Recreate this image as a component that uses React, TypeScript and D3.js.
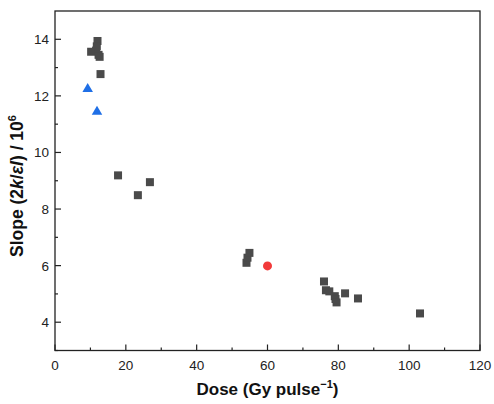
import React from "react";
import * as d3 from "d3";

const squareX = [12.0, 11.8, 10.2, 11.6, 12.3, 12.6, 12.85, 17.8, 26.8, 23.4, 54.07, 54.35, 54.9, 75.95, 76.5, 77.45, 79.0, 79.2, 79.5, 81.9, 85.55, 103.06];
const squareY = [13.94, 13.75, 13.56, 13.6, 13.45, 13.38, 12.77, 9.19, 8.95, 8.49, 6.10, 6.28, 6.45, 5.44, 5.13, 5.09, 4.92, 4.82, 4.70, 5.02, 4.84, 4.31];
const triangleX = [9.23, 11.86];
const triangleY = [12.24, 11.44];
const circleX = [60.0];
const circleY = [5.99];
const xTicks = [0, 20, 40, 60, 80, 100, 120];
const yTicks = [4, 6, 8, 10, 12, 14];
const xMinor = [10, 30, 50, 70, 90, 110];
const yMinor = [3, 5, 7, 9, 11, 13];

const W = 494, H = 404;
const L = 55, R = 480, T = 11, B = 350.5;

export default function App() {
  const x = d3.scaleLinear().domain([0, 120]).range([L, R]);
  const y = d3.scaleLinear().domain([3, 15]).range([B, T]);
  const font = "'Liberation Sans', Arial, sans-serif";
  const triPath = d3.symbol(d3.symbolTriangle, 48)() as string;
  return (
    <svg width={W} height={H} style={{ position: "absolute", left: 0, top: 0 }} fontFamily={font}>
      <rect x={0} y={0} width={W} height={H} fill="#fff" />
      <rect x={L} y={T} width={R - L} height={B - T} fill="none" stroke="#222" strokeWidth={1.3} />
      {xTicks.map((t) => (
        <g key={"xt" + t}>
          <line x1={x(t)} x2={x(t)} y1={B} y2={B - 6} stroke="#222" strokeWidth={1.2} />
          <text x={x(t)} y={B + 19.5} fontSize={13.5} textAnchor="middle" fill="#222">{t}</text>
        </g>
      ))}
      {xMinor.map((t) => (
        <line key={"xm" + t} x1={x(t)} x2={x(t)} y1={B} y2={B - 3} stroke="#222" strokeWidth={1.2} />
      ))}
      {yTicks.map((t) => (
        <g key={"yt" + t}>
          <line x1={L} x2={L + 6} y1={y(t)} y2={y(t)} stroke="#222" strokeWidth={1.2} />
          <text x={L - 6} y={y(t) + 5} fontSize={13.5} textAnchor="end" fill="#222">{t}</text>
        </g>
      ))}
      {yMinor.map((t) => (
        <line key={"ym" + t} x1={L} x2={L + 3} y1={y(t)} y2={y(t)} stroke="#222" strokeWidth={1.2} />
      ))}
      {squareX.map((v, i) => (
        <rect key={"s" + i} x={x(v) - 4} y={y(squareY[i]) - 4} width={8} height={8} fill="#4a4a4a" />
      ))}
      {triangleX.map((v, i) => (
        <path key={"t" + i} d={triPath} transform={`translate(${x(v)},${y(triangleY[i])})`} fill="#1f6fe6" />
      ))}
      {circleX.map((v, i) => (
        <circle key={"c" + i} cx={x(v)} cy={y(circleY[i])} r={4.5} fill="#f23a3a" />
      ))}
      <text x={(L + R) / 2} y={395} fontSize={17} fontWeight="bold" textAnchor="middle" fill="#111">
        Dose (Gy pulse<tspan dy={-7} fontSize={11}>−1</tspan><tspan dy={7}>)</tspan>
      </text>
      <text transform={`translate(23,186) rotate(-90)`} fontSize={17.5} fontWeight="bold" textAnchor="middle" fill="#111">
        Slope (2<tspan fontStyle="italic">k</tspan>/<tspan fontStyle="italic">εl</tspan>) / 10<tspan dy={-7} fontSize={11}>6</tspan>
      </text>
    </svg>
  );
}
